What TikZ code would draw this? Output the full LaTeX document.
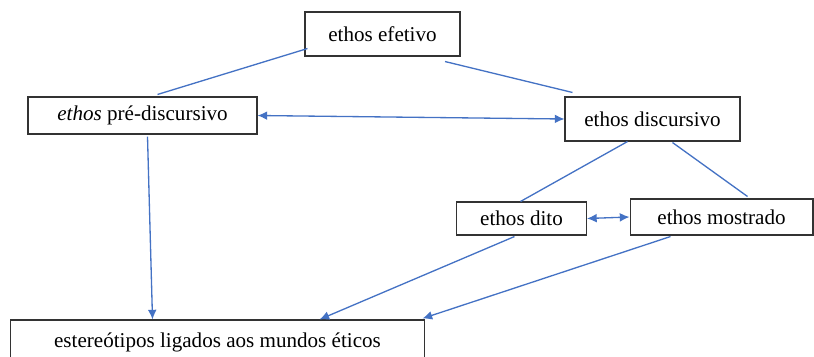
\documentclass[tikz,border=0pt]{standalone}
\usepackage{fontspec}
\setmainfont{Liberation Serif}
\newfontfamily\ethosfont{Liberation Serif}
\usepackage{xcolor}
\usetikzlibrary{arrows.meta}
\usetikzlibrary{calc}
\definecolor{linkblue}{HTML}{4472C4}

\tikzset{
  ethosbox/.style={draw=black!80, line width=0.6pt, inner sep=0pt, font=\ethosfont\fontsize{12}{14}\selectfont},
  link/.style={linkblue, line width=0.75pt},
  tip/.style={-{Latex[length=5.5pt,width=5pt]}},
  twotip/.style={{Latex[length=5.5pt,width=5pt]}-{Latex[length=5.5pt,width=5pt]}}
}

\begin{document}
\begin{tikzpicture}[x=0.02cm, y=-0.02cm]
              \useasboundingbox (0,0) rectangle (814,356);
              \clip (0,0) rectangle (814,356);

              \node[ethosbox, minimum width=3.1cm, minimum height=0.88cm] (efetivo) at (382.5,34) {ethos efetivo};
              \node[ethosbox, minimum width=4.58cm, minimum height=0.74cm] (pre) at (142.5,115.5) {\textit{ethos} pré-discursivo};
              \node[ethosbox, minimum width=3.5cm, minimum height=0.88cm] (disc) at (652.5,119) {ethos discursivo};
              \node[ethosbox, minimum width=2.6cm, minimum height=0.66cm] (dito) at (521.5,218.5) {ethos dito};
              \node[ethosbox, minimum width=3.66cm, minimum height=0.72cm] (mostrado) at (721.5,217) {ethos mostrado};
              \node[ethosbox, minimum width=8.3cm, minimum height=0.88cm] (estereo) at (217.5,342) {estereótipos ligados aos mundos éticos};

              \draw[link] ($(pre.north)+(15,-2)$) -- ($(efetivo.south west)+(3,-8)$);
              \draw[link] ($(efetivo.south)+(62.5,5)$) -- ($(disc.north west)+(8,-4)$);
              \draw[link, twotip] (pre.east) -- (disc.west);

              \draw[link] ($(disc.south)+(-25,0)$) -- ($(dito.north)+(-1,0)$);
              \draw[link] ($(disc.south)+(20,1)$) -- ($(mostrado.north)+(26,-2)$);
              \draw[link, twotip] (dito.east) -- (mostrado.west);

              \draw[link, tip] ($(pre.south)+(5,2)$) -- ($(estereo.north west)+(143,0)$);
              \draw[link, tip] ($(dito.south)+(-7,1)$) -- ($(estereo.north west)+(310,0)$);
              \draw[link, tip] ($(mostrado.south)+(-51,1)$) -- ($(estereo.north east)+(-3,-1)$);
            \end{tikzpicture}
\end{document}
